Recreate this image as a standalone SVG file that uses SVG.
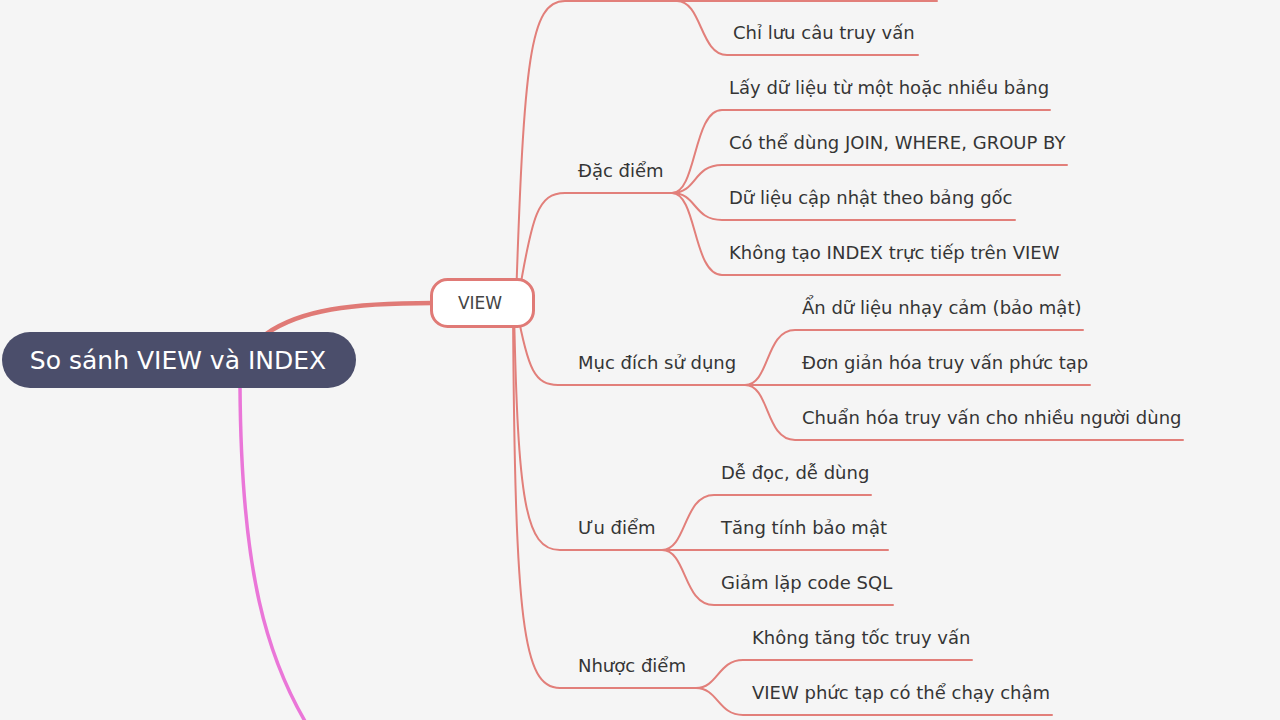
<svg xmlns="http://www.w3.org/2000/svg" width="1280" height="720" viewBox="0 0 1280 720">
<style>
.bg{fill:#f5f5f5}
.c{fill:none;stroke:#e27f7a;stroke-width:2;stroke-linecap:round}
.t{font-family:"DejaVu Sans",sans-serif;font-size:18px;fill:#353535}
</style>
<rect class="bg" x="0" y="0" width="1280" height="720"/>
<g id="connectors">
<path d="M240,386 C241,560 262,665 325,752" fill="none" stroke="#ea76d8" stroke-width="3.5"/>
<path d="M266,334 C300,310 350,303 433,303" fill="none" stroke="#e07a76" stroke-width="4.5"/>
<!-- VIEW to topics -->
<path class="c" d="M516,300 C524,60 530,1 565,1 L937,1"/>
<path class="c" d="M518,300 C532,215 538,193 565,193 L672,193"/>
<path class="c" d="M517,310 C528,370 535,385 558,385 L745,385"/>
<path class="c" d="M514,310 C518,500 525,550 560,550 L662,550"/>
<path class="c" d="M513,310 C515,625 523,688 560,688 L696,688"/>
<!-- top topic children -->
<path class="c" d="M677,1 C702,1 700,55 727,55 L918,55"/>
<!-- Dac diem children -->
<path class="c" d="M672,193 C697,193 693,110 722,110 L1050,110"/>
<path class="c" d="M672,193 C697,193 693,165 722,165 L1067,165"/>
<path class="c" d="M672,193 C697,193 693,220 722,220 L1015,220"/>
<path class="c" d="M672,193 C697,193 693,275 722,275 L1060,275"/>
<!-- Muc dich children -->
<path class="c" d="M745,385 C770,385 765,330 795,330 L1083,330"/>
<path class="c" d="M745,385 L1090,385"/>
<path class="c" d="M745,385 C770,385 765,440 795,440 L1183,440"/>
<!-- Uu diem children -->
<path class="c" d="M662,550 C687,550 683,495 714,495 L871,495"/>
<path class="c" d="M662,550 L888,550"/>
<path class="c" d="M662,550 C687,550 683,605 714,605 L893,605"/>
<!-- Nhuoc diem children -->
<path class="c" d="M696,688 C718,688 718,660 743,660 L972,660"/>
<path class="c" d="M696,688 C718,688 718,715 743,715 L1052,715"/>
</g>
<g id="root">
<rect x="2" y="332" width="354" height="56" rx="28" fill="#4b4e6b"/>
<text x="178" y="369" text-anchor="middle" font-family="DejaVu Sans, sans-serif" font-size="25" fill="#ffffff">So sánh VIEW và INDEX</text>
</g>
<g id="view">
<rect x="431.5" y="279.5" width="102" height="47" rx="16" fill="#ffffff" stroke="#e07a76" stroke-width="3"/>
<text x="480" y="309" text-anchor="middle" font-family="DejaVu Sans, sans-serif" font-size="17" fill="#444444">VIEW</text>
</g>
<g id="t-chi-luu"><text class="t" x="733" y="39">Chỉ lưu câu truy vấn</text></g>
<g id="dac-diem"><text class="t" x="578" y="177">Đặc điểm</text></g>
<g id="dd1"><text class="t" x="729" y="94">Lấy dữ liệu từ một hoặc nhiều bảng</text></g>
<g id="dd2"><text class="t" x="729" y="149">Có thể dùng JOIN, WHERE, GROUP BY</text></g>
<g id="dd3"><text class="t" x="729" y="204">Dữ liệu cập nhật theo bảng gốc</text></g>
<g id="dd4"><text class="t" x="729" y="259">Không tạo INDEX trực tiếp trên VIEW</text></g>
<g id="muc-dich"><text class="t" x="578" y="369">Mục đích sử dụng</text></g>
<g id="md1"><text class="t" x="802" y="314">Ẩn dữ liệu nhạy cảm (bảo mật)</text></g>
<g id="md2"><text class="t" x="802" y="369">Đơn giản hóa truy vấn phức tạp</text></g>
<g id="md3"><text class="t" x="802" y="424">Chuẩn hóa truy vấn cho nhiều người dùng</text></g>
<g id="uu-diem"><text class="t" x="578" y="534">Ưu điểm</text></g>
<g id="ud1"><text class="t" x="721" y="479">Dễ đọc, dễ dùng</text></g>
<g id="ud2"><text class="t" x="721" y="534">Tăng tính bảo mật</text></g>
<g id="ud3"><text class="t" x="721" y="589">Giảm lặp code SQL</text></g>
<g id="nhuoc-diem"><text class="t" x="578" y="672">Nhược điểm</text></g>
<g id="nd1"><text class="t" x="752" y="644">Không tăng tốc truy vấn</text></g>
<g id="nd2"><text class="t" x="752" y="699">VIEW phức tạp có thể chạy chậm</text></g>
</svg>
